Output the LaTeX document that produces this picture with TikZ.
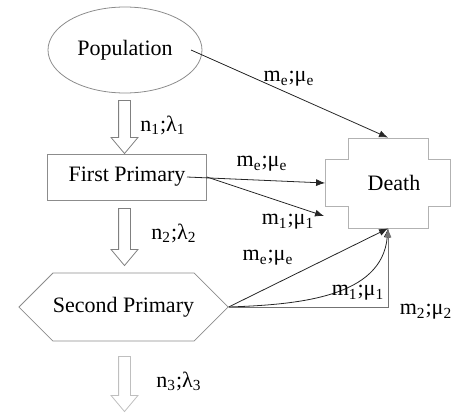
\documentclass[tikz,border=0pt]{standalone}
\usepackage{fontspec}
\setmainfont{Liberation Serif}
\usetikzlibrary{shapes.geometric,shapes.symbols,shapes.arrows,arrows.meta}

\begin{document}
\begin{tikzpicture}[x=0.5pt, y=-0.5pt, font=\fontsize{11}{13}\selectfont,
  box/.style = {draw=black!45, inner sep=0pt},
  flow/.style = {draw=black!50, single arrow, rotate=-90, inner sep=2.75pt, single arrow head extend=3.75pt, single arrow tip angle=80},
  link/.style = {draw=black!85, -{Latex[length=4.5pt,width=3.5pt]}},
  lbl/.style = {inner sep=0pt}]
  \useasboundingbox (0,0) rectangle (474,417);
  \node[box, ellipse, minimum width=77pt, minimum height=43pt] (pop) at (125,50) {Population\hspace{4pt}};
  \node[box, rectangle, minimum width=79.5pt, minimum height=23pt] (fp) at (127,177) {First Primary\hspace{7pt}};
  \node[box, signal, signal to=west and east, minimum width=96.5pt, minimum height=34pt] (sp) at (123.5,307) {Second Primary};
  \draw[black!30] (348,138) -- (428,138) -- (428,159) -- (450,159) -- (450,206) -- (428,206) -- (428,228)
    -- (348,228) -- (348,206) -- (325,206) -- (325,159) -- (348,159) -- cycle;
  \node[inner sep=0pt, minimum width=62.5pt, minimum height=45pt] (death) at (388,183) {\hspace{6pt}Death};
  \coordinate (fpend) at (324,216);
  \node[flow, minimum height=26.5pt] (a1) at (124.5,123.5) {};
  \node[flow, minimum height=28.5pt] (a2) at (124.5,233.5) {};
  \node[flow, draw=black!25, minimum height=27.5pt] (a3) at (124.5,380.5) {};
  \draw[link] ([xshift=33pt]pop.center) -- (death.north);
  \draw[link] ([xshift=30pt]fp.center) -- (death.west);
  \draw[link] (fp.east) -- (fpend);
  \draw[link] (sp.east) -- (death.south);
  \draw[link] (sp.east) to[out=2, in=-95] (death.south);
  \draw[link, draw=black!55] (sp.east) -- (sp.east -| death.south) -- (death.south);
  \node[lbl] (n1) at (163,125) {n\textsubscript{1};λ\textsubscript{1}};
  \node[lbl] (n2) at (174,233) {n\textsubscript{2};λ\textsubscript{2}};
  \node[lbl] (n3) at (179,381) {n\textsubscript{3};λ\textsubscript{3}};
  \node[lbl] (m1) at (289,79) {m\textsubscript{e};μ\textsubscript{e}};
  \node[lbl] (m2) at (262,164) {m\textsubscript{e};μ\textsubscript{e}};
  \node[lbl] (m3) at (288,222) {m\textsubscript{1};μ\textsubscript{1}};
  \node[lbl] (m4) at (268,258) {m\textsubscript{e};μ\textsubscript{e}};
  \node[lbl] (m5) at (358,293) {m\textsubscript{1};μ\textsubscript{1}};
  \node[lbl] (m6) at (426,312) {m\textsubscript{2};μ\textsubscript{2}};
\end{tikzpicture}
\end{document}
